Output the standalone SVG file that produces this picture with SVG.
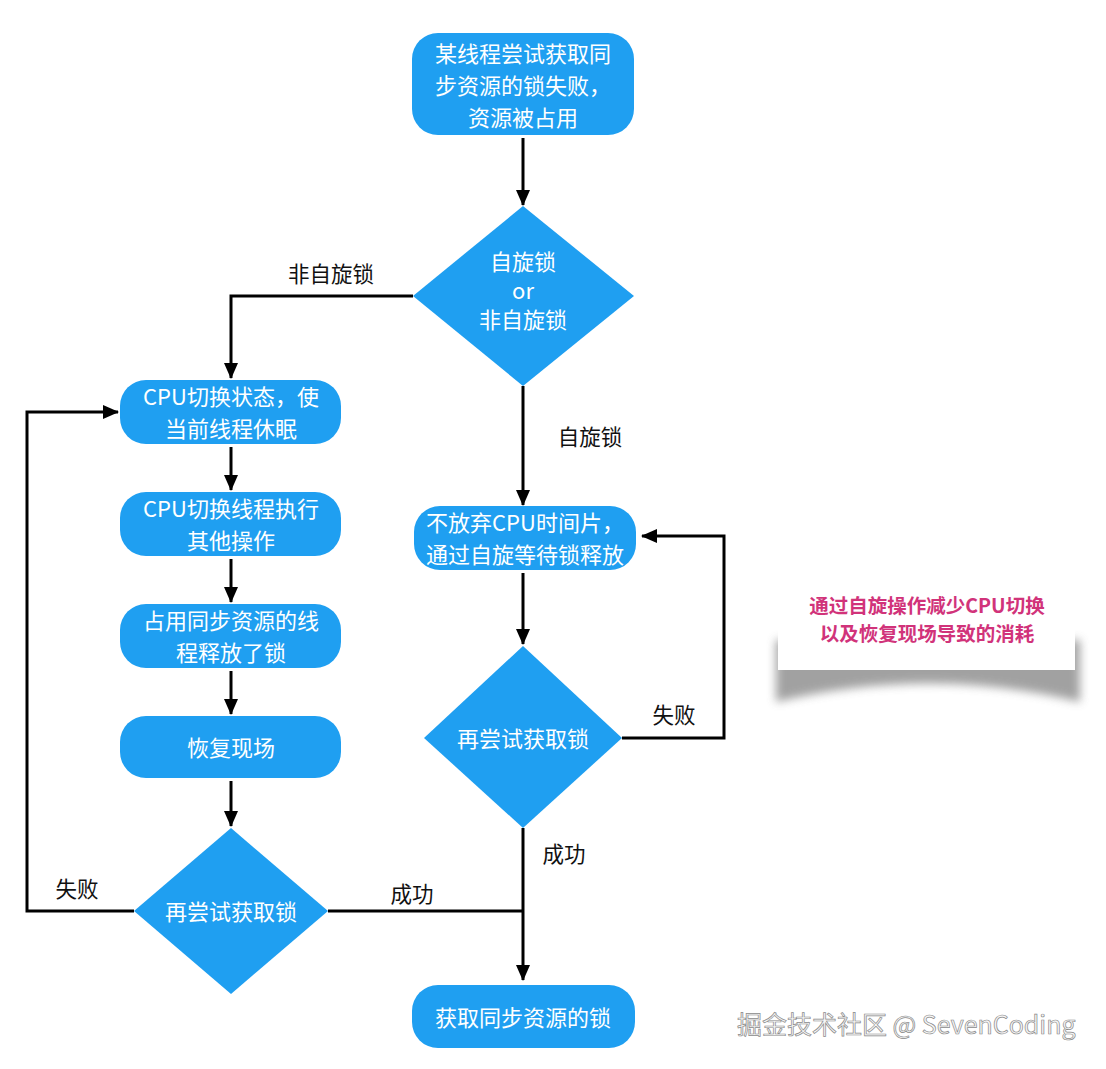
<svg xmlns="http://www.w3.org/2000/svg" width="1106" height="1069" viewBox="0 0 1106 1069">
<defs>
<style>
.node{fill:#1f9ff1;}
.nt{font-family:"Noto Sans CJK SC","Liberation Sans",sans-serif;font-size:22px;fill:#ffffff;text-anchor:middle;dominant-baseline:central;}
.lbl{font-family:"Noto Sans CJK SC","Liberation Sans",sans-serif;font-size:21.5px;fill:#111111;text-anchor:middle;dominant-baseline:central;}
.ln{fill:none;stroke:#000000;stroke-width:3;}
.note{font-family:"Noto Sans CJK SC","Liberation Sans",sans-serif;font-size:19.5px;font-weight:bold;fill:#d1337a;text-anchor:middle;dominant-baseline:central;}
.wm{font-family:"Noto Sans CJK SC","Liberation Sans",sans-serif;font-size:25px;fill:#f6f6f6;stroke:#8a8a8a;stroke-width:0.7px;}
</style>
<marker id="arr" markerWidth="16" markerHeight="14" refX="15" refY="7" orient="auto" markerUnits="userSpaceOnUse">
<path d="M0,0 L16,7 L0,14 Z" fill="#000000"/>
</marker>
<filter id="blur" x="-20%" y="-50%" width="140%" height="200%">
<feGaussianBlur stdDeviation="5"/>
</filter>
</defs>
<rect width="1106" height="1069" fill="#ffffff"/>

<g id="connectors">
<path class="ln" d="M523,138 L523,205" marker-end="url(#arr)"/>
<path class="ln" d="M413,296 L231,296 L231,378" marker-end="url(#arr)"/>
<path class="ln" d="M231,447 L231,490" marker-end="url(#arr)"/>
<path class="ln" d="M231,559 L231,602" marker-end="url(#arr)"/>
<path class="ln" d="M231,671 L231,714" marker-end="url(#arr)"/>
<path class="ln" d="M231,781 L231,826" marker-end="url(#arr)"/>
<path class="ln" d="M134,911 L27,911 L27,412 L118,412" marker-end="url(#arr)"/>
<path class="ln" d="M328,911 L523,911"/>
<path class="ln" d="M523,386 L523,505" marker-end="url(#arr)"/>
<path class="ln" d="M523,573 L523,644" marker-end="url(#arr)"/>
<path class="ln" d="M622,738 L724,738 L724,536 L642,536" marker-end="url(#arr)"/>
<path class="ln" d="M523,828 L523,980" marker-end="url(#arr)"/>
<text class="lbl" x="331" y="272">非自旋锁</text>
<text class="lbl" x="590" y="435">自旋锁</text>
<text class="lbl" x="674" y="713">失败</text>
<text class="lbl" x="564" y="852">成功</text>
<text class="lbl" x="77" y="887">失败</text>
<text class="lbl" x="412" y="892">成功</text>
</g>

<g id="start">
<rect class="node" x="412" y="33" width="222" height="102" rx="26"/>
<text class="nt" x="523" y="52">某线程尝试获取同</text>
<text class="nt" x="523" y="84">步资源的锁失败，</text>
<text class="nt" x="523" y="116">资源被占用</text>
</g>

<g id="decision-type">
<path class="node" d="M523,206 L634,296 L523,386 L413,296 Z"/>
<text class="nt" x="523" y="260">自旋锁</text>
<text class="nt" x="523" y="289">or</text>
<text class="nt" x="523" y="318">非自旋锁</text>
</g>

<g id="sleep">
<rect class="node" x="120" y="380" width="221" height="64" rx="26"/>
<text class="nt" x="231" y="395">CPU切换状态，使</text>
<text class="nt" x="231" y="427">当前线程休眠</text>
</g>

<g id="switch">
<rect class="node" x="120" y="492" width="221" height="64" rx="26"/>
<text class="nt" x="231" y="507">CPU切换线程执行</text>
<text class="nt" x="231" y="539">其他操作</text>
</g>

<g id="release">
<rect class="node" x="120" y="604" width="221" height="64" rx="26"/>
<text class="nt" x="231" y="619">占用同步资源的线</text>
<text class="nt" x="231" y="651">程释放了锁</text>
</g>

<g id="restore">
<rect class="node" x="120" y="716" width="221" height="62" rx="26"/>
<text class="nt" x="231" y="746">恢复现场</text>
</g>

<g id="retry-left">
<path class="node" d="M231,828 L328,911 L231,994 L134,911 Z"/>
<text class="nt" x="231" y="910">再尝试获取锁</text>
</g>

<g id="spin">
<rect class="node" x="414" y="506" width="222" height="64" rx="26"/>
<text class="nt" x="525" y="521">不放弃CPU时间片，</text>
<text class="nt" x="525" y="553">通过自旋等待锁释放</text>
</g>

<g id="retry-right">
<path class="node" d="M523,646 L622,738 L523,828 L424,738 Z"/>
<text class="nt" x="523" y="737">再尝试获取锁</text>
</g>

<g id="acquired">
<rect class="node" x="412" y="985" width="223" height="63" rx="26"/>
<text class="nt" x="523" y="1016">获取同步资源的锁</text>
</g>

<g id="note">
<path d="M776,640 L1080,640 L1080,702 Q930,665 776,702 Z" fill="#8a8a8a" filter="url(#blur)" opacity="0.8"/>
<rect x="778" y="567" width="297" height="103" fill="#ffffff"/>
<text class="note" x="927" y="604">通过自旋操作减少CPU切换</text>
<text class="note" x="927" y="632">以及恢复现场导致的消耗</text>
</g>

<text class="wm" x="737" y="1034">掘金技术社区 @ SevenCoding</text>
</svg>
